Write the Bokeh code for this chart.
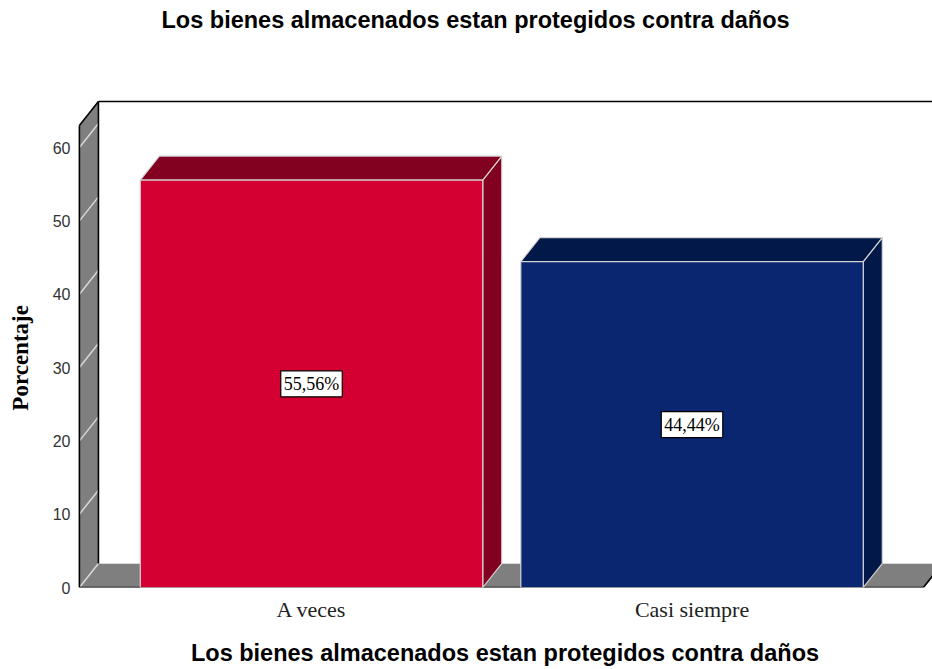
from bokeh.plotting import figure
from bokeh.models import Range1d, FixedTicker, Label, Title
from bokeh.embed import file_html
from bokeh.resources import INLINE

title_text = "Los bienes almacenados estan protegidos contra daños"
y_label = "Porcentaje"
categories = ["A veces", "Casi siempre"]
percentages = [55.56, 44.44]
y_ticks = [0, 10, 20, 30, 40, 50, 60]
front_colors = ["#D50032", "#0B2671"]
shade_colors = ["#820020", "#021848"]

xs = list(range(len(categories)))

# geometry of the pseudo-3D frame (data units)
BAR_W = 0.9
DX = 0.05
DY = 3.27
X_LEFT = -0.61
X_RIGHT = 1.608
WALL_TOP = 63.0

p = figure(width=932, height=669, title=title_text,
           x_range=Range1d(-0.615, 1.632), y_range=Range1d(0, 66.55),
           output_backend="svg", toolbar_location=None,
           min_border_left=77, min_border_right=0,
           min_border_top=99, min_border_bottom=82)
p.background_fill_color = "white"
p.border_fill_color = "white"
p.outline_line_color = None
p.xgrid.visible = False
p.ygrid.visible = False

p.title.text_font = "Liberation Sans"
p.title.text_font_style = "bold"
p.title.text_font_size = "23.5px"
p.title.text_color = "black"
p.title.align = "left"
p.title.offset = 84
p.title.vertical_align = "bottom"
p.title.standoff = 2
# empty spacer between the title and the plot frame
p.add_layout(Title(text=" ", text_font_size="1px", standoff=63), "above")

GRAY = "#7f7f7f"
LIGHT = "#d8d8d8"

# floor
p.patch([X_LEFT, X_RIGHT, X_RIGHT + DX, X_LEFT + DX], [0, 0, DY, DY],
        fill_color=GRAY, line_color=None)
# left wall
p.patch([X_LEFT, X_LEFT, X_LEFT + DX, X_LEFT + DX], [0, WALL_TOP, WALL_TOP + DY, DY],
        fill_color=GRAY, line_color=None)
# wall grid lines
p.multi_line(xs=[[X_LEFT, X_LEFT + DX] for _ in y_ticks],
             ys=[[t, t + DY] for t in y_ticks],
             line_color=LIGHT, line_width=1.5)
# floor back edge
p.line([X_LEFT + DX, X_RIGHT + DX], [DY, DY], line_color=LIGHT, line_width=1.2)
# black edges
p.multi_line(
    xs=[[X_LEFT, X_LEFT], [X_LEFT, X_LEFT + DX], [X_LEFT + DX, X_LEFT + DX],
        [X_LEFT + DX, 2.0], [X_LEFT, X_RIGHT], [X_RIGHT, X_RIGHT + DX]],
    ys=[[0, WALL_TOP], [WALL_TOP, WALL_TOP + DY], [DY, WALL_TOP + DY],
        [WALL_TOP + DY, WALL_TOP + DY], [0, 0], [0, DY]],
    line_color="black", line_width=1.6)

# bars
EDGE = "#d4d4d4"
for i, v in enumerate(percentages):
    x0 = xs[i] - BAR_W / 2
    x1 = xs[i] + BAR_W / 2
    p.patch([x1, x1 + DX, x1 + DX, x1], [0, DY, v + DY, v],
            fill_color=shade_colors[i], line_color=EDGE, line_width=1.2)
    p.patch([x0, x0 + DX, x1 + DX, x1], [v, v + DY, v + DY, v],
            fill_color=shade_colors[i], line_color=EDGE, line_width=1.2)
    p.quad(left=[x0], right=[x1], bottom=[0], top=[v],
           fill_color=front_colors[i], line_color=EDGE, line_width=1.2)
    txt = f"{v:.2f}".replace(".", ",") + "%"
    p.add_layout(Label(x=xs[i], y=v / 2, text=txt, text_align="center",
                       text_baseline="middle", text_font="Liberation Serif",
                       text_font_size="18px", text_color="black",
                       background_fill_color="white", border_line_color="black",
                       border_line_width=1.2, padding=3))

# axes
p.xaxis.ticker = FixedTicker(ticks=xs)
p.xaxis.major_label_overrides = {i: c for i, c in enumerate(categories)}
p.xaxis.axis_line_color = None
p.xaxis.major_tick_line_color = None
p.xaxis.minor_tick_line_color = None
p.xaxis.major_label_text_font = "Liberation Serif"
p.xaxis.major_label_text_font_size = "22px"
p.xaxis.major_label_text_color = "#222222"
p.xaxis.major_label_standoff = 3
p.xaxis.axis_label = title_text
p.xaxis.axis_label_text_font = "Liberation Sans"
p.xaxis.axis_label_text_font_style = "bold"
p.xaxis.axis_label_text_font_size = "23.5px"
p.xaxis.axis_label_text_color = "black"
p.xaxis.axis_label_standoff = 15

p.yaxis.ticker = FixedTicker(ticks=y_ticks)
p.yaxis.axis_line_color = None
p.yaxis.major_tick_line_color = None
p.yaxis.minor_tick_line_color = None
p.yaxis.major_label_text_font = "Liberation Sans"
p.yaxis.major_label_text_font_size = "16px"
p.yaxis.major_label_text_color = "#333333"
p.yaxis.major_label_standoff = 1
# trailing no-break spaces center the visible word lower, on the front wall
p.yaxis.axis_label = y_label + "\u00a0" * 5
p.yaxis.axis_label_text_font = "Liberation Serif"
p.yaxis.axis_label_text_font_style = "bold"
p.yaxis.axis_label_text_font_size = "23px"
p.yaxis.axis_label_text_color = "black"
p.yaxis.axis_label_standoff = 17

open("out.html", "w").write(file_html(p, INLINE))
